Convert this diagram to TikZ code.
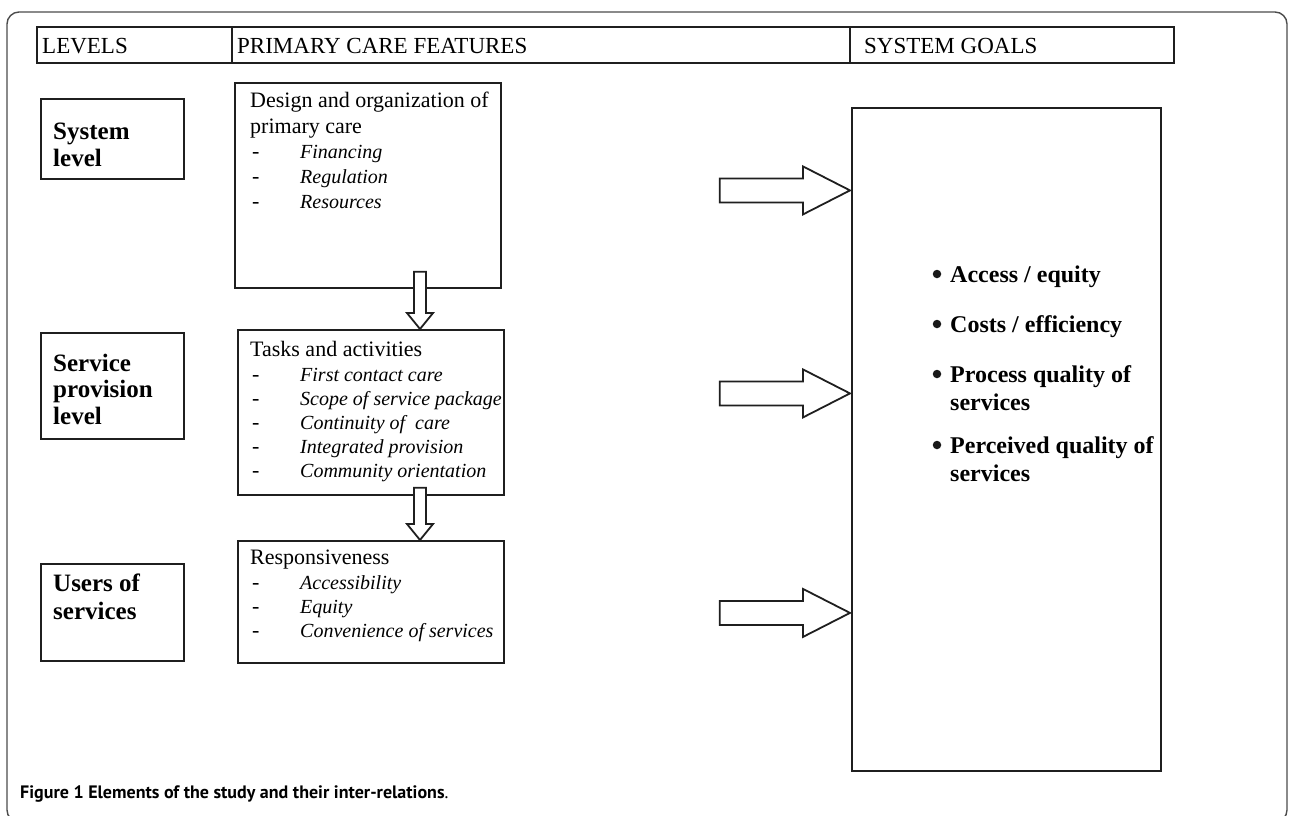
\documentclass[tikz,border=0pt]{standalone}
\usepackage{fontspec}
\setmainfont{Liberation Serif}
\newfontfamily\capfont{PT Sans}
\usetikzlibrary{calc}
\newcommand{\rightblock}[2]{%
  \draw[barrow] ($(#1)+(0,-12)$) -- ($(#2)+(-47,-12)$) -- ($(#2)+(-47,-24)$) -- (#2)
    -- ($(#2)+(-47,24)$) -- ($(#2)+(-47,12)$) -- ($(#1)+(0,12)$) -- cycle;}
\newcommand{\downblock}[2]{%
  \draw[barrow] ($(#1)+(-6,0)$) -- ($(#2)+(-6,-16)$) -- ($(#2)+(-13,-16)$) -- (#2)
    -- ($(#2)+(13,-16)$) -- ($(#2)+(6,-16)$) -- ($(#1)+(6,0)$) -- cycle;}
\begin{document}
\begin{tikzpicture}[x=1pt,y=-1pt,
  box/.style={draw=black!88, line width=1.8pt, inner sep=0pt, anchor=north west},
  htxt/.style={inner sep=0pt, anchor=base west, font=\fontsize{23}{26}\selectfont},
  txt/.style={inner sep=0pt, anchor=base west, font=\fontsize{22}{25}\selectfont},
  btxt/.style={inner sep=0pt, anchor=base west, font=\fontsize{25}{28}\selectfont\bfseries},
  gtxt/.style={inner sep=0pt, anchor=base west, font=\fontsize{24}{28}\selectfont\bfseries},
  itxt/.style={inner sep=0pt, anchor=base west, font=\fontsize{20}{24}\selectfont\itshape},
  bul/.style={circle, fill=black!90, inner sep=0pt, minimum size=8.5pt},
  barrow/.style={draw=black!88, line width=1.8pt, fill=white, line join=miter},
  frame/.style={draw=black!70, line width=1.4pt, rounded corners=12pt}]
\useasboundingbox (0,0) rectangle (1290,815);
\draw[frame] (7,12) rectangle (1287,822);

% header
\node[box, minimum width=195, minimum height=36] (c1) at (36,26) {};
\node[box, minimum width=618, minimum height=36] (c2) at (231,26) {};
\node[box, minimum width=324, minimum height=36] (c3) at (849,26) {};
\node[htxt] (h1) at ($(c1.north west)+(6,27)$) {LEVELS};
\node[htxt] (h2) at ($(c2.north west)+(6,27)$) {PRIMARY CARE FEATURES};
\node[htxt] (h3) at ($(c3.north west)+(15,27)$) {SYSTEM GOALS};

% level boxes
\node[box, minimum width=143, minimum height=80] (sys) at (40,98) {};
\node[btxt] (sys1) at (53,139) {System};
\node[btxt] (sys2) at (53,166) {level};

\node[box, minimum width=143, minimum height=106] (serv) at (40,332) {};
\node[btxt] (serv1) at (53,371) {Service};
\node[btxt] (serv2) at (53,397) {provision};
\node[btxt] (serv3) at (53,424) {level};

\node[box, minimum width=143, minimum height=97] (users) at (40,563) {};
\node[btxt] (us1) at (53,591) {Users of};
\node[btxt] (us2) at (53,619) {services};

% feature boxes
\node[box, minimum width=266, minimum height=205] (design) at (234,82) {};
\node[txt] (d1) at (250,107) {Design and organization of};
\node[txt] (d2) at (250,133) {primary care};
\node[txt] (d3a) at (252,158) {-};
\node[itxt] (d3) at (300,158) {Financing};
\node[txt] (d4a) at (252,183) {-};
\node[itxt] (d4) at (300,183) {Regulation};
\node[txt] (d5a) at (252,208) {-};
\node[itxt] (d5) at (300,208) {Resources};

\node[box, minimum width=266, minimum height=165] (tasks) at (237,329) {};
\node[txt] (t1) at (250,356) {Tasks and activities};
\node[txt] (t2a) at (252,381) {-};
\node[itxt] (t2) at (300,381) {First contact care};
\node[txt] (t3a) at (252,405) {-};
\node[itxt] (t3) at (300,405) {Scope of service package};
\node[txt] (t4a) at (252,429) {-};
\node[itxt] (t4) at (300,429) {Continuity of\ \ care};
\node[txt] (t5a) at (252,453) {-};
\node[itxt] (t5) at (300,453) {Integrated provision};
\node[txt] (t6a) at (252,477) {-};
\node[itxt] (t6) at (300,477) {Community orientation};

\node[box, minimum width=266, minimum height=122] (resp) at (237,540) {};
\node[txt] (r1) at (250,564) {Responsiveness};
\node[txt] (r2a) at (252,589) {-};
\node[itxt] (r2) at (300,589) {Accessibility};
\node[txt] (r3a) at (252,613) {-};
\node[itxt] (r3) at (300,613) {Equity};
\node[txt] (r4a) at (252,637) {-};
\node[itxt] (r4) at (300,637) {Convenience of services};

% goals
\node[box, minimum width=309, minimum height=663] (goals) at (851,107) {};
\node[bul] (b1) at (937,274) {};
\node[gtxt] (g1) at (950,282) {Access / equity};
\node[bul] (b2) at (937,324) {};
\node[gtxt] (g2) at (950,332) {Costs / efficiency};
\node[bul] (b3) at (937,374) {};
\node[gtxt] (g3) at (950,382) {Process quality of};
\node[gtxt] (g3b) at (950,410) {services};
\node[bul] (b4) at (937,445) {};
\node[gtxt] (g4) at (950,453) {Perceived quality of};
\node[gtxt] (g4b) at (950,481) {services};

% arrows
\coordinate (a1s) at ($(design.east)+(218,5)$);
\coordinate (a1e) at ($(a1s -| goals.west)+(-1,0)$);
\rightblock{a1s}{a1e}
\coordinate (a2s) at ($(tasks.east)+(215,-19)$);
\coordinate (a2e) at ($(a2s -| goals.west)+(-1,0)$);
\rightblock{a2s}{a2e}
\coordinate (a3s) at ($(resp.east)+(215,11)$);
\coordinate (a3e) at ($(a3s -| goals.west)+(-1,0)$);
\rightblock{a3s}{a3e}

\coordinate (d1s) at ($(design.south west)+(186,-17)$);
\coordinate (d1e) at (d1s |- tasks.north);
\downblock{d1s}{d1e}
\coordinate (d2s) at ($(tasks.south west)+(183,-8)$);
\coordinate (d2e) at (d2s |- resp.north);
\downblock{d2s}{d2e}

% caption
\node[inner sep=0pt, anchor=base west, font=\capfont\fontsize{18}{20}\selectfont] (cap) at (20,798)
  {\textbf{Figure 1 Elements of the study and their inter-relations}.};
\end{tikzpicture}
\end{document}
